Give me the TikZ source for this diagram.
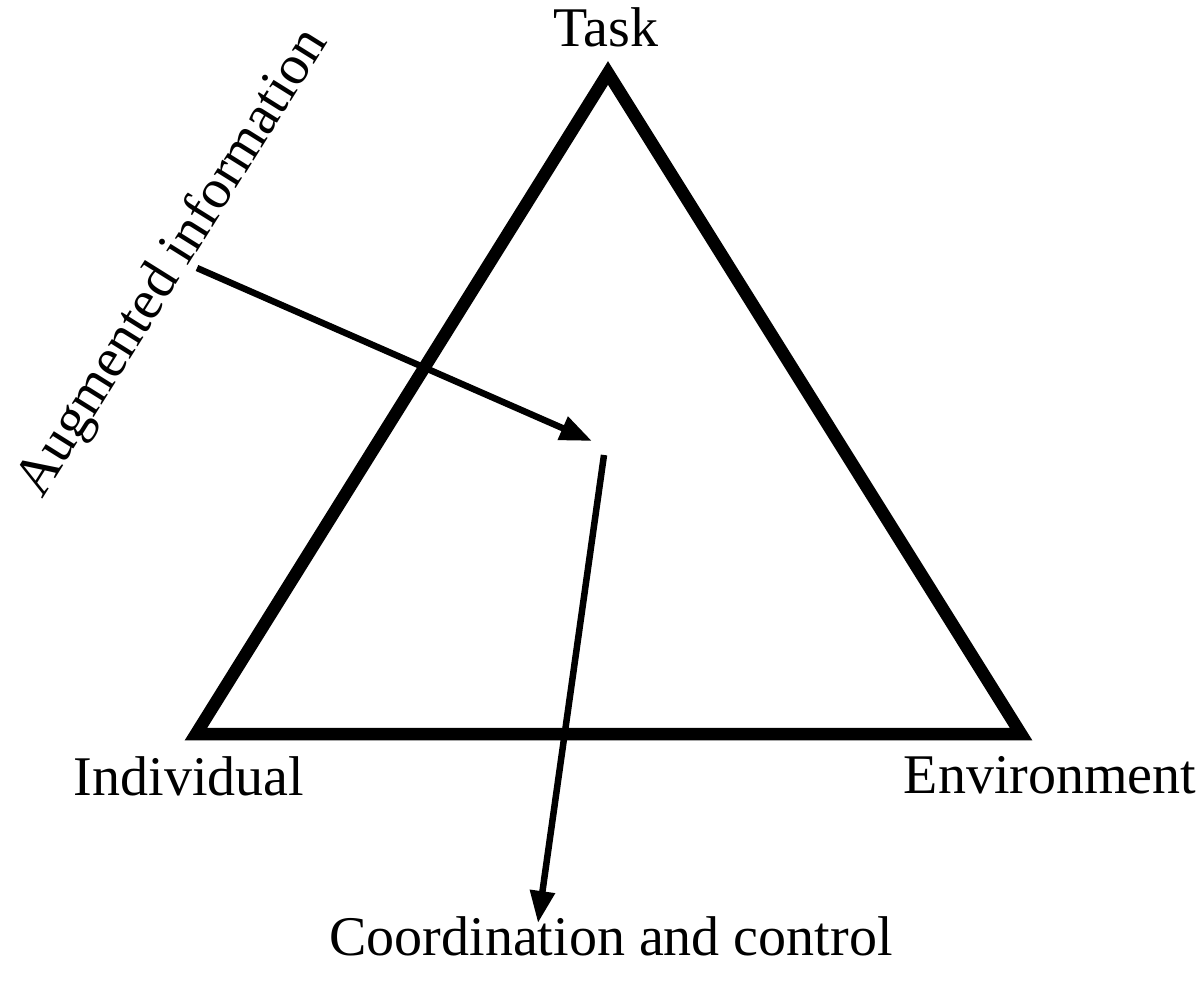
\documentclass[tikz,border=0pt]{standalone}
\usepackage{fontspec}
\setmainfont{Liberation Serif}
\usetikzlibrary{arrows.meta}
\begin{document}
\begin{tikzpicture}[x=1pt,y=-1pt,
  lbl/.style={inner sep=0pt, font=\fontsize{56}{60}\selectfont},
  tri/.style={line width=12.5pt, line join=miter},
  arr/.style={line width=6.5pt, -{Triangle[length=32pt,width=24pt]}}]
\useasboundingbox (0,0) rectangle (1200,981);
\coordinate (T) at (608,73);
\coordinate (I) at (196,734);
\coordinate (E) at (1021,734);
\draw[tri] (T) -- (I) -- (E) -- cycle;
\node[lbl, anchor=base] (task) at (606,47) {Task};
\node[lbl, anchor=base] (ind) at (189,795) {Individual};
\node[lbl, anchor=base] (env) at (1050,793) {Environment};
\node[lbl, anchor=base] (cc) at (611,955) {Coordination and control};
\node[lbl, anchor=base west, rotate=58] (aug) at (42,500) {Augmented information};
\coordinate (a1s) at (197,268);
\coordinate (a1e) at (592,441);
\coordinate (a2s) at (604,455);
\coordinate (a2e) at (538,923);
\draw[arr] (a1s) -- (a1e);
\draw[arr] (a2s) -- (a2e);
\end{tikzpicture}
\end{document}
